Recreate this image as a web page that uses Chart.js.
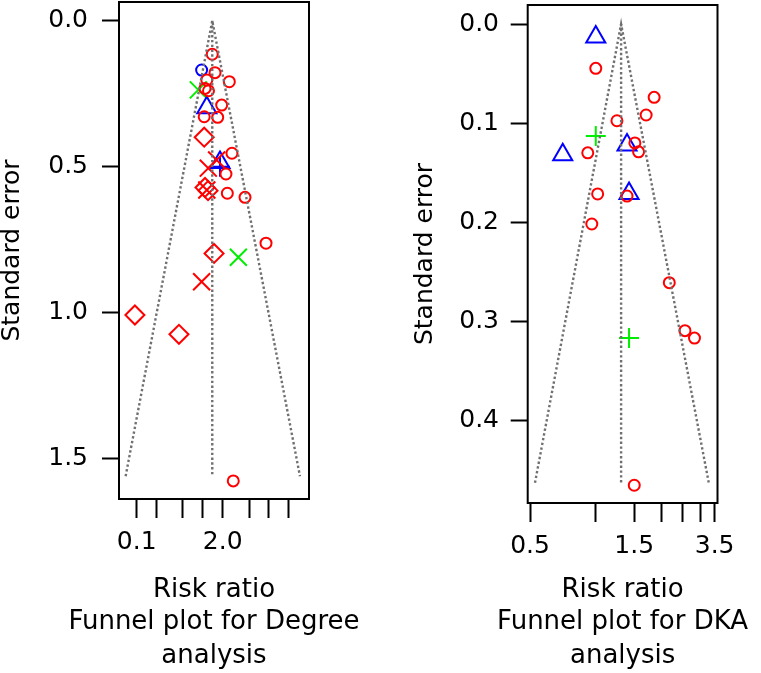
<!DOCTYPE html>
<html>
<head>
<meta charset="utf-8">
<script src="https://cdn.jsdelivr.net/npm/chart.js@4.4.1/dist/chart.umd.min.js"></script>
<style>
  html, body { margin: 0; padding: 0; background: #fff; overflow: hidden; }
  #wrap { position: relative; width: 761px; height: 673px; overflow: hidden; }
  #degree { position: absolute; left: 0; top: -18px; }
  #dka { position: absolute; left: 380px; top: -15px; }
</style>
</head>
<body>
<div id="wrap">
  <canvas id="degree" width="380" height="691"></canvas>
  <canvas id="dka" width="381" height="688"></canvas>
</div>
<script>
// ---- Degree analysis (risk ratio, standard error) ----
const degreeRedCircles = [
  { x: 1.39, y: 0.115 }, { x: 1.53, y: 0.178 }, { x: 2.52, y: 0.209 }, { x: 1.15, y: 0.203 },
  { x: 1.08, y: 0.232 }, { x: 1.22, y: 0.24 }, { x: 1.93, y: 0.289 }, { x: 1.05, y: 0.329 },
  { x: 1.68, y: 0.331 }, { x: 2.76, y: 0.454 }, { x: 2.24, y: 0.525 }, { x: 2.35, y: 0.591 },
  { x: 4.35, y: 0.605 }, { x: 9.04, y: 0.762 }, { x: 2.89, y: 1.576 }
];
const degreeRedDiamonds = [
  { x: 1.05, y: 0.399 }, { x: 1.08, y: 0.571 }, { x: 1.2, y: 0.582 },
  { x: 1.48, y: 0.797 }, { x: 0.094, y: 1.008 }, { x: 0.436, y: 1.074 }
];
const degreeRedCrosses = [
  { x: 1.62, y: 0.477 }, { x: 1.21, y: 0.505 }, { x: 1.15, y: 0.58 }, { x: 0.96, y: 0.894 }
];
const degreeBlueCircles = [{ x: 0.96, y: 0.169 }];
const degreeBlueTriangles = [{ x: 1.15, y: 0.298 }, { x: 1.82, y: 0.486 }];
const degreeBluePlus = [{ x: 1.82, y: 0.5 }];
const degreeGreenCrosses = [{ x: 0.855, y: 0.237 }, { x: 3.45, y: 0.81 }];
const degreeFunnel = { center: 1.39, lower: 0.068, upper: 29.5, maxSE: 1.56 };
const degreeXTicks = [0.1, 0.2, 0.5, 1, 2, 5, 10, 20];
const degreeXLabels = ['0.1', '', '', '', '2.0', '', '', ''];
const degreeYTicks = [0, 0.5, 1, 1.5];

// ---- DKA analysis ----
const dkaRedCircles = [
  { x: 1.0, y: 0.0447 }, { x: 1.85, y: 0.074 }, { x: 1.70, y: 0.0918 }, { x: 1.25, y: 0.0976 },
  { x: 1.51, y: 0.12 }, { x: 1.57, y: 0.129 }, { x: 0.919, y: 0.13 }, { x: 1.02, y: 0.1715 },
  { x: 1.39, y: 0.1736 }, { x: 0.959, y: 0.2018 }, { x: 2.17, y: 0.261 }, { x: 2.56, y: 0.3095 },
  { x: 2.83, y: 0.317 }, { x: 1.5, y: 0.4655 }
];
const dkaBlueTriangles = [
  { x: 1.0, y: 0.013 }, { x: 1.39, y: 0.122 }, { x: 0.706, y: 0.132 }, { x: 1.42, y: 0.171 }
];
const dkaGreenPlus = [{ x: 1.0, y: 0.113 }, { x: 1.42, y: 0.317 }];
const dkaFunnel = { center: 1.306, lower: 0.527, upper: 3.29, maxSE: 0.463 };
const dkaXTicks = [0.5, 1, 1.5, 2, 2.5, 3, 3.5];
const dkaXLabels = ['0.5', '', '1.5', '', '', '', '3.5'];
const dkaYTicks = [0, 0.1, 0.2, 0.3, 0.4];

const FONT = "'DejaVu Sans', 'Liberation Sans', Arial, sans-serif";
const RED = '#ff0000', BLUE = '#0000ff', GREEN = '#00ee00';

function marks(data, color, style, radius) {
  return {
    data, pointStyle: style, pointRadius: radius, pointHoverRadius: radius,
    borderColor: color, backgroundColor: 'rgba(0,0,0,0)', pointBorderWidth: 2,
    showLine: false, clip: false
  };
}

function funnelSets(f) {
  const dots = { borderColor: '#707070', borderWidth: 2.4, borderDash: [2.4, 2.4], pointRadius: 0, showLine: true, fill: false };
  return [
    Object.assign({ data: [{ x: f.lower, y: f.maxSE }, { x: f.center, y: 0 }, { x: f.upper, y: f.maxSE }] }, dots),
    Object.assign({ data: [{ x: f.center, y: 0 }, { x: f.center, y: f.maxSE }] }, dots)
  ];
}

const boxPlugin = {
  id: 'box',
  afterDraw(chart) {
    const { ctx, chartArea: a } = chart;
    ctx.save();
    ctx.strokeStyle = '#000';
    ctx.lineWidth = 2;
    ctx.strokeRect(a.left, a.top, a.right - a.left, a.bottom - a.top);
    ctx.restore();
  }
};

// second and third caption lines under the axis title
const captionPlugin = {
  id: 'caption',
  afterDraw(chart, args, opts) {
    const { ctx, chartArea: a } = chart;
    ctx.save();
    ctx.font = '26px ' + FONT;
    ctx.fillStyle = '#000';
    ctx.textAlign = 'center';
    ctx.textBaseline = 'middle';
    const cx = (a.left + a.right) / 2;
    const y0 = chart.height - 51;
    opts.lines.forEach((t, i) => ctx.fillText(t, cx, y0 + i * 34.5));
    ctx.restore();
  }
};

function makeChart(id, cfg) {
  new Chart(document.getElementById(id), {
    type: 'scatter',
    data: { datasets: cfg.datasets },
    plugins: [boxPlugin, captionPlugin],
    options: {
      responsive: false,
      animation: false,
      events: [],
      layout: { padding: cfg.padding },
      plugins: {
        legend: { display: false },
        tooltip: { enabled: false },
        caption: { lines: cfg.caption }
      },
      scales: {
        x: {
          type: 'logarithmic',
          bounds: 'data',
          min: cfg.xMin, max: cfg.xMax,
          afterBuildTicks: s => { s.ticks = cfg.xTicks.map(v => ({ value: v })); },
          afterFit: s => { s.height = cfg.xHeight; s.paddingLeft = 0; s.paddingRight = 0; },
          ticks: {
            autoSkip: false, maxRotation: 0, padding: 9, color: '#000',
            font: { family: FONT, size: 25 },
            callback: (v, i) => cfg.xLabels[i]
          },
          grid: { drawOnChartArea: false, drawTicks: true, tickLength: 19, tickWidth: 2, tickColor: '#000' },
          border: { display: false },
          title: {
            display: true, text: 'Risk ratio', color: '#000',
            font: { family: FONT, size: 26, lineHeight: 1.2 },
            padding: { top: 0, bottom: 67 }
          }
        },
        y: {
          type: 'linear',
          reverse: true,
          bounds: 'data',
          min: cfg.yMin, max: cfg.yMax,
          afterBuildTicks: s => { s.ticks = cfg.yTicks.map(v => ({ value: v })); },
          afterFit: s => { s.width = cfg.yWidth; s.paddingTop = 0; s.paddingBottom = 0; },
          ticks: {
            padding: cfg.yPad, color: '#000',
            font: { family: FONT, size: 25 },
            callback: v => Number(v).toFixed(1)
          },
          grid: { drawOnChartArea: false, drawTicks: true, tickLength: 17, tickWidth: 2, tickColor: '#000' },
          border: { display: false },
          title: {
            display: true, text: 'Standard error', color: '#000',
            font: { family: FONT, size: 25, lineHeight: 1 },
            padding: { top: 0, bottom: 0 }
          }
        }
      }
    }
  });
}

makeChart('degree', {
  datasets: [
    ...funnelSets(degreeFunnel),
    marks(degreeRedCircles, RED, 'circle', 5.5),
    marks(degreeRedDiamonds, RED, 'rectRot', 9.5),
    marks(degreeRedCrosses, RED, 'crossRot', 12),
    marks(degreeBlueCircles, BLUE, 'circle', 5.5),
    marks(degreeBlueTriangles, BLUE, 'triangle', 11),
    marks(degreeBluePlus, BLUE, 'cross', 10),
    marks(degreeGreenCrosses, GREEN, 'crossRot', 12)
  ],
  padding: { left: 0, top: 20, right: 71, bottom: 0 },
  xMin: 0.054, xMax: 40.4, xTicks: degreeXTicks, xLabels: degreeXLabels, xHeight: 174,
  yMin: -0.064, yMax: 1.638, yTicks: degreeYTicks, yWidth: 119, yPad: 14,
  caption: ['Funnel plot for Degree', 'analysis']
});

makeChart('dka', {
  datasets: [
    ...funnelSets(dkaFunnel),
    marks(dkaRedCircles, RED, 'circle', 5.5),
    marks(dkaBlueTriangles, BLUE, 'triangle', 11),
    marks(dkaGreenPlus, GREEN, 'cross', 10)
  ],
  padding: { left: 33, top: 20, right: 43.5, bottom: 0 },
  xMin: 0.488, xMax: 3.607, xTicks: dkaXTicks, xLabels: dkaXLabels, xHeight: 170,
  yMin: -0.0192, yMax: 0.4834, yTicks: dkaYTicks, yWidth: 114.7, yPad: 11.7,
  caption: ['Funnel plot for DKA', 'analysis']
});
</script>
</body>
</html>
